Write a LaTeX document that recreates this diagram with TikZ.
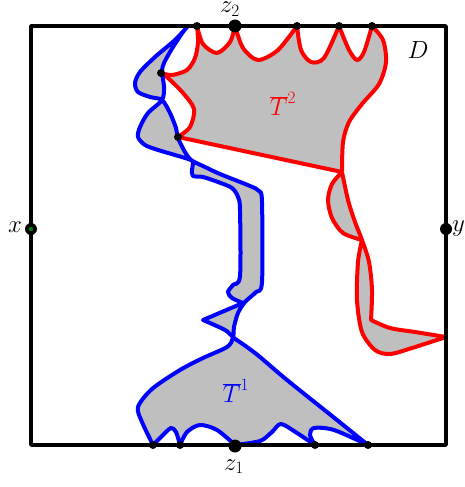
\documentclass[tikz,border=0pt]{standalone}
\begin{document}
\begin{tikzpicture}[x=1pt,y=-1pt,line join=round,line cap=round,
  curvefill/.style={fill=lightgray},
  redcurve/.style={draw=red,line width=4pt},
  bluecurve/.style={draw=blue,line width=4pt},
  boxline/.style={draw=black,line width=3.5pt},
  smalldot/.style={fill=black},
  lbl/.style={font=\fontsize{23}{27}\selectfont,inner sep=0pt}]
\useasboundingbox (0,0) rectangle (465,487);
% red region T2
\path[curvefill,redcurve]
  plot[smooth] coordinates {(197,26) (203,44) (217,53) (230,42) (235,26)}
  -- plot[smooth] coordinates {(235,26) (243,48) (258,60) (278,50) (297,26)}
  -- plot[smooth] coordinates {(297,26) (301,50) (311,62) (324,58) (339,26)}
  -- plot[smooth] coordinates {(339,26) (349,50) (357,60) (364,52) (372,26)}
  -- plot[smooth] coordinates {(372,26) (383,40) (386,62) (379,84) (362,104) (349,122) (343,142) (342,172)}
  -- plot[smooth] coordinates {(342,172) (348,200) (355,222) (362,240) (369,262) (372,290) (371,320)}
  -- plot[smooth] coordinates {(371,320) (390,328) (415,332) (446,337)}
  -- plot[smooth] coordinates {(446,337) (412,348) (390,354) (375,350) (362,332) (357,300) (358,262) (362,240)}
  -- plot[smooth] coordinates {(362,240) (343,233) (332,218) (328,200) (332,184) (342,172)}
  -- (178,137)
  -- plot[smooth] coordinates {(178,137) (190,127) (194,109) (183,93) (168,78) (161,73)}
  -- plot[smooth] coordinates {(161,73) (172,75) (187,70) (195,58) (198,42) (197,26)}
  -- cycle;
% blue region T1
\path[curvefill,bluecurve]
  plot[smooth] coordinates {(188,26) (175,40) (155,57) (140,72) (135,83) (138,92) (150,97) (162,100) (170,113) (176,128) (178,138) (185,152) (191,160) (205,167) (220,174) (250,186) (259,191) (262,202) (262,282) (256,292) (245,302) (238,313) (234,327) (233,338) (227,347) (203,358) (180,370) (152,389) (138,407) (142,422) (153,445)}
  -- plot[smooth] coordinates {(153,445) (163,435) (171,428) (176,432) (180,445)}
  -- plot[smooth] coordinates {(180,445) (187,432) (200,425) (217,430) (235,445)}
  -- plot[smooth] coordinates {(235,445) (260,441) (272,432) (281,424) (297,433) (315,445)}
  -- plot[smooth] coordinates {(315,445) (310,435) (314,428) (334,430) (368,445)}
  -- plot[smooth] coordinates {(368,445) (337,420) (287,380) (260,357) (247,347) (234,338) (225,330) (203,320)}
  -- (243,303)
  -- plot[smooth] coordinates {(243,303) (232,298) (228,292) (233,285) (240,276) (240,210) (238,197) (232,188) (218,182) (203,177) (193,176) (192,170) (193,163) (191,160) (175,155) (158,150) (145,145) (138,137) (140,127) (148,113) (162,100) (164,87) (162,72) (164,63) (173,47) (183,32) (188,26)}
  -- cycle;
% box
\draw[boxline] (31,26) rectangle (446,445);
% dots
\foreach \p/\n in {197/t1,297/t2,339/t3,372/t4}{\fill[smalldot] (\p,26) circle (4pt) coordinate (\n);}
\foreach \p/\n in {153/b1,180/b2,315/b3,368/b4}{\fill[smalldot] (\p,445) circle (4pt) coordinate (\n);}
\fill[smalldot] (161,73) circle (4pt);
\fill[smalldot] (178,137) circle (4pt);
\fill[smalldot] (235,26) circle (6.5pt);
\fill[smalldot] (235,446) circle (6.5pt);
\fill[smalldot] (31,229) circle (6pt);
\fill[green!50!black] (31,229) circle (2.2pt);
\fill[smalldot] (446,229) circle (6pt);
% labels
\node[lbl,anchor=base] (z2) at (230,13) {$z_2$};
\node[lbl,anchor=base] (z1) at (234,470) {$z_1$};
\node[lbl] (xl) at (15,227) {$x$};
\node[lbl,anchor=west] (yl) at (452,229) {$y$};
\node[lbl] (D) at (418,50) {$D$};
\node[lbl,text=red] (T2) at (283,104) {$\overline{T}^2$};
\node[lbl,text=blue] (T1) at (236,391) {$\overline{T}^1$};
\end{tikzpicture}
\end{document}
